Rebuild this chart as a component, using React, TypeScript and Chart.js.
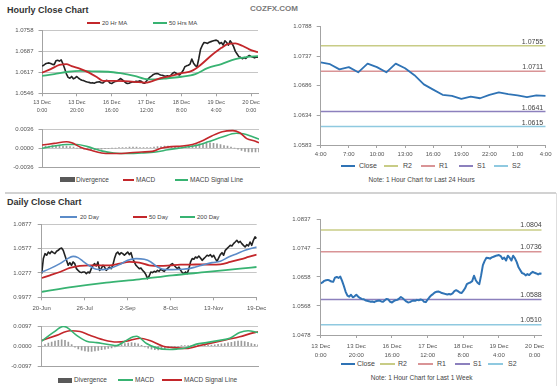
import React, { useEffect, useRef } from 'react';
import { Chart, registerables } from 'chart.js';

Chart.register(...registerables);

const FONT = "'Liberation Sans', Arial, Helvetica, sans-serif";

// ---------------- Hourly close (last 1 week) ----------------
const hourlyXTickIdx = [0, 20, 40, 60, 80, 100, 120];
const hourlyXLabels = [
  ['13 Dec', '0:00'], ['13 Dec', '20:00'], ['16 Dec', '16:00'], ['17 Dec', '12:00'],
  ['18 Dec', '8:00'], ['19 Dec', '4:00'], ['20 Dec', '0:00'],
];
const hourlyClose = [
  1.0638, 1.0641, 1.0646, 1.0648, 1.0649, 1.0647, 1.0644, 1.0643, 1.0656, 1.0658,
  1.0655, 1.0659, 1.0646, 1.0630, 1.0612, 1.0600, 1.0597, 1.0603, 1.0595, 1.0598,
  1.0603, 1.0597, 1.0593, 1.0590, 1.0589, 1.0586, 1.0584, 1.0583, 1.0581, 1.0582,
  1.0580, 1.0583, 1.0584, 1.0585, 1.0582, 1.0581, 1.0586, 1.0590, 1.0588, 1.0581,
  1.0579, 1.0583, 1.0586, 1.0587, 1.0591, 1.0596, 1.0592, 1.0587, 1.0582, 1.0579,
  1.0580, 1.0583, 1.0585, 1.0584, 1.0587, 1.0586, 1.0588, 1.0587, 1.0581, 1.0580,
  1.0588, 1.0595, 1.0601, 1.0605, 1.0610, 1.0612, 1.0613, 1.0611, 1.0608, 1.0607,
  1.0605, 1.0604, 1.0605, 1.0604, 1.0607, 1.0614, 1.0617, 1.0614, 1.0610, 1.0608,
  1.0615, 1.0623, 1.0636, 1.0639, 1.0641, 1.0645, 1.0662, 1.0648, 1.0640, 1.0636,
  1.0663, 1.0695, 1.0708, 1.0718, 1.0717, 1.0715, 1.0719, 1.0721, 1.0723, 1.0725,
  1.0726, 1.0723, 1.0714, 1.0718, 1.0709, 1.0724, 1.0718, 1.0709, 1.0724, 1.0716,
  1.0704, 1.0688, 1.0679, 1.0670, 1.0668, 1.0663, 1.0667, 1.0664, 1.0670, 1.0674,
  1.0671, 1.0669, 1.0666, 1.0669, 1.0668,
];
const hourlyMA20 = [
  [0, 1.0616], [5, 1.0628], [10, 1.0642], [14, 1.0645], [17, 1.0638], [22, 1.0629],
  [27, 1.0616], [32, 1.0599], [35, 1.0588], [41, 1.0588], [47, 1.0587], [53, 1.0585],
  [59, 1.0582], [62, 1.0585], [68, 1.0597], [74, 1.0605], [80, 1.0614], [86, 1.0622],
  [91, 1.0642], [97, 1.0673], [103, 1.0700], [107, 1.0713], [111, 1.0715], [115, 1.0707],
  [119, 1.0695], [124, 1.0685],
];
const hourlyMA50 = [
  [0, 1.0605], [7, 1.0611], [15, 1.0619], [22, 1.0622], [30, 1.0620], [38, 1.0619],
  [45, 1.0614], [53, 1.0605], [61, 1.0593], [66, 1.0593], [72, 1.0597], [80, 1.0602],
  [88, 1.0611], [95, 1.0631], [103, 1.0645], [111, 1.0662], [118, 1.0669], [124, 1.0672],
];
const hourlyYTicks = ['1.0546', '1.0617', '1.0687', '1.0758'];

const hourlyMacd = [
  [0, 0.0006], [7, 0.0009], [14, 0.0012], [17, 0.0010], [22, 0.0002], [28, -0.0004],
  [34, -0.0009], [40, -0.0010], [44, -0.0010], [49, -0.0009], [57, -0.0007], [63, -0.0006],
  [68, 0.0000], [74, 0.0003], [80, 0.0004], [86, 0.0007], [91, 0.0013], [97, 0.0023],
  [103, 0.0031], [109, 0.0033], [113, 0.0029], [117, 0.0018], [122, 0.0013], [124, 0.0010],
];
const hourlySignal = [
  [0, 0.0000], [7, 0.0004], [14, 0.0007], [20, 0.0007], [26, 0.0003], [34, -0.0005],
  [41, -0.0009], [49, -0.0010], [57, -0.0009], [65, -0.0007], [72, -0.0003], [80, 0.0001],
  [88, 0.0005], [95, 0.0012], [103, 0.0021], [111, 0.0028], [115, 0.0027], [120, 0.0022],
  [124, 0.0017],
];
// one bar every 2 hours
const hourlyDivergence = [
  0.0004, 0.0004, 0.0004, 0.0005, 0.0005, 0.0005, 0.0004, 0.0004,
  0.0003, 0.0002, 0.0000, -0.0001,
  -0.0002, -0.0002, -0.0003, -0.0003, -0.0002, -0.0002, -0.0001, -0.0001, 0.0000,
  0.0000, 0.0001, 0.0001, 0.0001, 0.0002, 0.0002, 0.0002, 0.0001, 0.0001, 0.0001,
  0.0001, 0.0002, 0.0003, 0.0003, 0.0004, 0.0004, 0.0003, 0.0003, 0.0003, 0.0003,
  0.0003, 0.0004, 0.0005, 0.0007, 0.0008, 0.0009, 0.0010, 0.0010, 0.0009, 0.0008, 0.0007, 0.0005, 0.0004,
  0.0002, 0.0000, -0.0002, -0.0004, -0.0006, -0.0007, -0.0007, -0.0007, -0.0007,
];
const hourlyMacdTicks = ['-0.0036', '0.0000', '0.0036'];

// ---------------- Last 24 hours ----------------
const last24TickIdx = [0, 3, 6, 9, 12, 15, 18, 21, 24];
const last24Labels = ['4:00', '7:00', '10:00', '13:00', '16:00', '19:00', '22:00', '1:00', '4:00'];
const last24Close = [
  1.0726, 1.0723, 1.0714, 1.0718, 1.0709, 1.0724, 1.0718, 1.0709, 1.0724, 1.0716,
  1.0704, 1.0688, 1.0679, 1.0670, 1.0668, 1.0663, 1.0667, 1.0664, 1.0670, 1.0674,
  1.0671, 1.0669, 1.0666, 1.0669, 1.0668,
];
const last24YTicks = ['1.0583', '1.0634', '1.0686', '1.0737', '1.0788'];
const levelNames = ['R2', 'R1', 'S1', 'S2'];
const last24Levels = [1.0755, 1.0711, 1.0641, 1.0615];

// ---------------- Last 1 week ----------------
const weekYTicks = ['1.0478', '1.0568', '1.0658', '1.0747', '1.0837'];
const weekLevels = [1.0804, 1.0736, 1.0588, 1.0510];

// ---------------- Daily ----------------
const dailyXTickIdx = [0, 26, 52, 78, 104, 130];
const dailyXLabels = ['20-Jun', '26-Jul', '2-Sep', '8-Oct', '13-Nov', '19-Dec'];
const dailyClose = [
  1.0268, 1.0452, 1.0513, 1.0493, 1.0533, 1.0513, 1.0542, 1.0525, 1.0513, 1.0542,
  1.0554, 1.0574, 1.0582, 1.0554, 1.0493, 1.0431, 1.0370, 1.0403, 1.0370, 1.0411,
  1.0390, 1.0329, 1.0308, 1.0288, 1.0280, 1.0288, 1.0288, 1.0268, 1.0288, 1.0276,
  1.0329, 1.0370, 1.0390, 1.0362, 1.0411, 1.0308, 1.0329, 1.0370, 1.0349, 1.0308,
  1.0329, 1.0349, 1.0329, 1.0370, 1.0452, 1.0513, 1.0533, 1.0501, 1.0525, 1.0513,
  1.0493, 1.0513, 1.0533, 1.0501, 1.0525, 1.0452, 1.0411, 1.0370, 1.0349, 1.0329,
  1.0337, 1.0308, 1.0288, 1.0255, 1.0206, 1.0239, 1.0288, 1.0280, 1.0296, 1.0288,
  1.0308, 1.0296, 1.0321, 1.0308, 1.0296, 1.0317, 1.0329, 1.0349, 1.0378, 1.0390,
  1.0370, 1.0349, 1.0329, 1.0349, 1.0308, 1.0280, 1.0268, 1.0288, 1.0268, 1.0329,
  1.0411, 1.0452, 1.0444, 1.0472, 1.0460, 1.0484, 1.0460, 1.0431, 1.0452, 1.0472,
  1.0493, 1.0484, 1.0501, 1.0472, 1.0493, 1.0452, 1.0419, 1.0460, 1.0501, 1.0525,
  1.0493, 1.0554, 1.0574, 1.0595, 1.0615, 1.0607, 1.0636, 1.0656, 1.0677, 1.0648,
  1.0664, 1.0636, 1.0615, 1.0595, 1.0623, 1.0607, 1.0656, 1.0615, 1.0677, 1.0718,
  1.0700,
];
const dailyMA20 = [
  [0, 1.0288], [5, 1.0329], [11, 1.0390], [15, 1.0443], [19, 1.0480], [22, 1.0464],
  [25, 1.0419], [29, 1.0362], [33, 1.0321], [37, 1.0317], [42, 1.0337], [47, 1.0378],
  [52, 1.0431], [57, 1.0452], [62, 1.0443], [66, 1.0411], [70, 1.0349], [75, 1.0317],
  [79, 1.0317], [85, 1.0321], [89, 1.0329], [93, 1.0349], [98, 1.0378], [103, 1.0403],
  [108, 1.0419], [113, 1.0472], [118, 1.0513], [123, 1.0554], [130, 1.0595],
];
const dailyMA50 = [
  [0, 1.0214], [5, 1.0247], [11, 1.0288], [17, 1.0337], [23, 1.0362], [29, 1.0370],
  [35, 1.0370], [41, 1.0370], [47, 1.0390], [53, 1.0411], [59, 1.0403], [65, 1.0370],
  [72, 1.0362], [78, 1.0370], [84, 1.0378], [90, 1.0378], [96, 1.0382], [102, 1.0378],
  [108, 1.0382], [114, 1.0411], [120, 1.0443], [125, 1.0472], [130, 1.0501],
];
const dailyMA200 = [
  [0, 1.0043], [19, 1.0104], [39, 1.0157], [59, 1.0198], [79, 1.0247], [100, 1.0288],
  [120, 1.0329], [130, 1.0349],
];
const dailyYTicks = ['0.9977', '1.0277', '1.0577', '1.0877'];

const dailyMacd = [
  [0, 0.0024], [7, 0.0066], [13, 0.0095], [15, 0.0091], [21, 0.0052], [27, 0.0024],
  [33, 0.0017], [41, 0.0007], [45, 0.0003], [50, 0.0024], [55, 0.0045], [57, 0.0048],
  [63, 0.0013], [69, -0.0008], [77, -0.0016], [81, -0.0014], [87, -0.0007], [93, 0.0010],
  [99, 0.0017], [107, 0.0028], [113, 0.0038], [119, 0.0066], [124, 0.0074], [130, 0.0066],
];
const dailySignal = [
  [0, 0.0027], [9, 0.0052], [17, 0.0074], [23, 0.0071], [29, 0.0052], [37, 0.0031],
  [45, 0.0020], [51, 0.0024], [59, 0.0038], [65, 0.0027], [73, 0.0000], [79, -0.0007],
  [87, -0.0011], [95, 0.0003], [103, 0.0017], [111, 0.0031], [119, 0.0045], [127, 0.0064],
  [130, 0.0069],
];
// one bar every 2 days
const dailyDivergence = [
  0.0000, 0.0008, 0.0015, 0.0020, 0.0024, 0.0028, 0.0030, 0.0028, 0.0020, 0.0008,
  -0.0005, -0.0013, -0.0019, -0.0023, -0.0025, -0.0025, -0.0023, -0.0020, -0.0017, -0.0014,
  -0.0011, -0.0008, -0.0004, 0.0002, 0.0008, 0.0012, 0.0015, 0.0017, 0.0015, 0.0011,
  0.0004, -0.0004, -0.0010, -0.0014, -0.0017, -0.0018, -0.0016, -0.0012, -0.0008, -0.0005,
  -0.0003, -0.0002, 0.0001, 0.0002, 0.0003, 0.0004, 0.0005, 0.0006, 0.0005, 0.0004,
  0.0004, 0.0005, 0.0007, 0.0009, 0.0011, 0.0013, 0.0016, 0.0019, 0.0022, 0.0024,
  0.0024, 0.0022, 0.0018, 0.0013, 0.0009, 0.0006,
];
const dailyMacdTicks = ['-0.0097', '0.0000', '0.0097'];

// ---------------- colours ----------------
const RED = '#c3272b';
const GREEN = '#38b372';
const BLUE20 = '#5b8bc8';
const CLOSE_BLUE = '#2f73b5';
const LEVEL_COLORS = ['#c8cc86', '#d99496', '#8c80bd', '#8fc9e0'];
const AXIS = '#a3a3a3';
const GRID = '#c6c6c6';
const TICK_TXT = '#555';

// ---------------- helpers ----------------
const seq = (arr: number[]) => arr.map((y, i) => ({ x: i, y }));
const pairs = (arr: number[][]) => arr.map(([x, y]) => ({ x, y }));
const every2 = (arr: number[]) => arr.map((y, k) => ({ x: k * 2, y }));

function lineDs(data: any[], color: string, width: number, smooth = false) {
  return {
    type: 'line', data, borderColor: color, backgroundColor: color, borderWidth: width,
    pointRadius: 0, fill: false, tension: 0,
    cubicInterpolationMode: smooth ? 'monotone' : 'default', borderJoinStyle: 'round',
  };
}
function barDs(data: any[]) {
  return { type: 'bar', data, backgroundColor: '#9c9c9c', borderWidth: 0, barThickness: 1 };
}
function levelDs(v: number, max: number, color: string) {
  return lineDs([{ x: 0, y: v }, { x: max, y: v }], color, 1.5);
}

function yAxis(labels: string[], width: number, gridOn: boolean, tl: number, pad: number) {
  const vals = labels.map(Number);
  return {
    type: 'linear', position: 'left', min: vals[0], max: vals[vals.length - 1],
    afterBuildTicks: (s: any) => { s.ticks = vals.map((value) => ({ value })); },
    afterFit: (s: any) => { s.width = width; },
    ticks: {
      font: { family: FONT, size: 6 }, color: TICK_TXT, padding: pad, autoSkip: false,
      callback: (_v: any, i: number) => labels[i],
    },
    grid: { drawOnChartArea: gridOn, color: GRID, lineWidth: 1, tickLength: tl, tickColor: AXIS },
    border: { display: true, color: AXIS },
  };
}

function xAxis(max: number, idx: number[], labels: any[], height: number, pad: number, size: number, show = true) {
  return {
    type: 'linear', position: 'bottom', min: 0, max, offset: false,
    afterBuildTicks: (s: any) => { s.ticks = idx.map((value) => ({ value })); },
    afterFit: (s: any) => { s.height = height; },
    ticks: {
      display: show, autoSkip: false, maxRotation: 0, minRotation: 0,
      font: { family: FONT, size, lineHeight: 1.5 }, color: TICK_TXT, padding: pad,
      callback: (_v: any, i: number) => labels[i],
    },
    grid: { display: show, drawOnChartArea: false, tickLength: 3, tickColor: AXIS, offset: false },
    border: { display: true, color: AXIS },
  };
}

function baseOptions(padding: any, scales: any, extra: any = {}) {
  return {
    responsive: false, maintainAspectRatio: false, animation: false, devicePixelRatio: 1, events: [],
    layout: { padding },
    plugins: { legend: { display: false }, tooltip: { enabled: false }, ...extra },
    scales,
  };
}

function levelLabelPlugin(levels: number[], dx: number, dy: number) {
  return {
    id: 'levelLabels',
    afterDatasetsDraw(chart: any) {
      const { ctx, chartArea, scales } = chart;
      ctx.save();
      ctx.font = `7px ${FONT}`;
      ctx.fillStyle = '#444';
      ctx.textAlign = 'right';
      ctx.textBaseline = 'alphabetic';
      levels.forEach((v) => {
        const y = scales.y.getPixelForValue(v);
        ctx.fillText(v.toFixed(4), chartArea.right - dx, y - dy);
      });
      ctx.restore();
    },
  };
}

// ---------------- chart configs ----------------
const hourlyPriceCfg = () => ({
  type: 'line',
  data: {
    datasets: [
      lineDs(pairs(hourlyMA20), RED, 1.8, true),
      lineDs(pairs(hourlyMA50), GREEN, 1.8, true),
      lineDs(seq(hourlyClose), '#222', 1.6),
    ],
  },
  options: baseOptions({ top: 10.7, right: 8, bottom: 0, left: 0 }, {
    x: xAxis(124, hourlyXTickIdx, hourlyXLabels, 26.7, 2, 5.5),
    y: yAxis(hourlyYTicks, 42, true, 3.5, 5),
  }),
});

const hourlyMacdCfg = () => ({
  type: 'line',
  data: {
    datasets: [
      lineDs(pairs(hourlyMacd), RED, 1.6, true),
      lineDs(pairs(hourlySignal), GREEN, 1.6, true),
      barDs(every2(hourlyDivergence)),
    ],
  },
  options: baseOptions({ top: 9, right: 7, bottom: 0, left: 0 }, {
    x: xAxis(124, hourlyXTickIdx, hourlyXLabels, 5.3, 0, 6, false),
    y: yAxis(hourlyMacdTicks, 42, true, 3.5, 5),
  }),
});

const last24Cfg = () => ({
  type: 'line',
  data: {
    datasets: [
      lineDs(seq(last24Close), CLOSE_BLUE, 1.8),
      ...last24Levels.map((v, i) => levelDs(v, 24, LEVEL_COLORS[i])),
    ],
  },
  options: baseOptions({ top: 10.7, right: 14.3, bottom: 0, left: 0 }, {
    x: xAxis(24, last24TickIdx, last24Labels, 17, 1.5, 6),
    y: yAxis(last24YTicks, 45.7, false, 4, 5),
  }),
  plugins: [levelLabelPlugin(last24Levels, 2.5, 2)],
});

const weekCfg = () => ({
  type: 'line',
  data: {
    datasets: [
      lineDs(seq(hourlyClose), CLOSE_BLUE, 2),
      ...weekLevels.map((v, i) => levelDs(v, 124, LEVEL_COLORS[i])),
    ],
  },
  options: baseOptions({ top: 11.3, right: 18.3, bottom: 0, left: 0 }, {
    x: xAxis(124, hourlyXTickIdx, hourlyXLabels, 27, 4, 6),
    y: yAxis(weekYTicks, 45.7, false, 4, 6),
  }),
  plugins: [levelLabelPlugin(weekLevels, 0, 2.5)],
});

const dailyPriceCfg = () => ({
  type: 'line',
  data: {
    datasets: [
      lineDs(pairs(dailyMA20), BLUE20, 1.6, true),
      lineDs(pairs(dailyMA50), RED, 1.8, true),
      lineDs(pairs(dailyMA200), GREEN, 1.8, true),
      lineDs(seq(dailyClose), '#222', 1.6),
    ],
  },
  options: baseOptions({ top: 12, right: 15.3, bottom: 0, left: 0 }, {
    x: xAxis(130, dailyXTickIdx, dailyXLabels, 16.7, 3.5, 6),
    y: yAxis(dailyYTicks, 41.7, true, 4, 6),
  }),
});

const dailyMacdCfg = () => ({
  type: 'line',
  data: {
    datasets: [
      lineDs(pairs(dailyMacd), GREEN, 1.6, true),
      lineDs(pairs(dailySignal), RED, 1.6, true),
      barDs(every2(dailyDivergence)),
    ],
  },
  options: baseOptions({ top: 10, right: 14, bottom: 0, left: 0 }, {
    x: xAxis(130, dailyXTickIdx, dailyXLabels, 4.3, 0, 6, false),
    y: yAxis(dailyMacdTicks, 41.7, true, 4, 6),
  }),
});

// ---------------- components ----------------
function ChartCanvas({ left, top, width, height, build }: any) {
  const ref = useRef<HTMLCanvasElement>(null);
  useEffect(() => {
    const chart = new Chart(ref.current as HTMLCanvasElement, build() as any);
    return () => chart.destroy();
  }, []);
  return (
    <canvas
      ref={ref}
      width={width}
      height={height}
      style={{ position: 'absolute', left, top, width, height }}
    />
  );
}

function Txt({ x, y, size, text, bold = false, color = '#444', center = false }: any) {
  return (
    <div
      style={{
        position: 'absolute', left: center ? x - 150 : x, top: y - 6, width: center ? 300 : undefined,
        height: 12, lineHeight: '12px', fontSize: size, fontWeight: bold ? 700 : 400, color,
        whiteSpace: 'nowrap', textAlign: center ? 'center' : 'left', fontFamily: FONT,
      }}
    >
      {text}
    </div>
  );
}

function LegendItem({ x, y, w, tx, color, text, size, box = false }: any) {
  const h = box ? 5 : 2;
  return (
    <>
      <div style={{ position: 'absolute', left: x, top: y - h / 2, width: w, height: h, background: color }} />
      <Txt x={tx} y={y} size={size} text={text} />
    </>
  );
}

export default function App() {
  useEffect(() => {
    document.body.style.margin = '0';
  }, []);
  return (
    <div
      style={{
        position: 'fixed', left: 0, top: 0, width: 560, height: 386, background: '#fff',
        overflow: 'hidden', fontFamily: FONT,
      }}
    >
      <Txt x={7} y={9.5} size={9} bold color="#333" text="Hourly Close Chart" />
      <Txt x={250} y={9} size={8} bold color="#7a7a7a" text="COZFX.COM" />
      <Txt x={7} y={202} size={9} bold color="#333" text="Daily Close Chart" />

      <div style={{ position: 'absolute', left: 5, top: 191.5, width: 551, height: 2, background: '#d2d2d2' }} />
      <div style={{ position: 'absolute', left: 556, top: 193, width: 1, height: 193, background: '#dedede' }} />

      {/* legends: hourly price */}
      <LegendItem x={87} y={23} w={13} tx={102} color={RED} size={6} text="20 Hr MA" />
      <LegendItem x={153} y={23} w={14} tx={169} color={GREEN} size={6} text="50 Hrs MA" />

      {/* legends: hourly MACD */}
      <LegendItem x={60} y={179.7} w={15} tx={76} color="#595959" size={6.5} text="Divergence" box />
      <LegendItem x={123} y={179.7} w={11} tx={136} color={RED} size={6.5} text="MACD" />
      <LegendItem x={175} y={179.7} w={13} tx={190} color={GREEN} size={6.5} text="MACD Signal Line" />

      {/* legends: last 24h */}
      <LegendItem x={341} y={165.7} w={14} tx={359} color={CLOSE_BLUE} size={7} text="Close" />
      {levelNames.map((n, i) => (
        <LegendItem key={n} x={[384, 421, 459, 494][i]} y={165.7} w={14} tx={[403, 439, 477, 512][i]}
          color={LEVEL_COLORS[i]} size={7} text={n} />
      ))}
      <Txt x={421.7} y={180} size={6.5} center color="#444" text="Note: 1 Hour Chart for Last 24 Hours" />

      {/* legends: daily price */}
      <LegendItem x={60} y={216.7} w={17} tx={80} color={BLUE20} size={6} text="20 Day" />
      <LegendItem x={133} y={216.7} w={14} tx={149} color={RED} size={6} text="50 Day" />
      <LegendItem x={180} y={216.7} w={15} tx={197} color={GREEN} size={6} text="200 Day" />

      {/* legends: daily MACD */}
      <LegendItem x={58} y={380} w={14} tx={74} color="#595959" size={6.5} text="Divergence" box />
      <LegendItem x={118} y={380} w={15} tx={135} color={GREEN} size={6.5} text="MACD" />
      <LegendItem x={162} y={380} w={20} tx={184} color={RED} size={6.5} text="MACD Signal Line" />

      {/* legends: last week */}
      <LegendItem x={341} y={364} w={14} tx={357} color={CLOSE_BLUE} size={7} text="Close" />
      {levelNames.map((n, i) => (
        <LegendItem key={'w' + n} x={[380, 418, 455, 488][i]} y={364} w={15} tx={[398, 437, 473, 508][i]}
          color={LEVEL_COLORS[i]} size={7} text={n} />
      ))}
      <Txt x={421.7} y={377.7} size={6.5} center color="#444" text="Note: 1 Hour Chart for Last 1 Week" />

      <ChartCanvas left={0} top={20} width={266} height={100} build={hourlyPriceCfg} />
      <ChartCanvas left={0} top={120} width={266} height={56} build={hourlyMacdCfg} />
      <ChartCanvas left={275} top={16} width={285} height={146} build={last24Cfg} />
      <ChartCanvas left={0} top={212} width={272} height={102} build={dailyPriceCfg} />
      <ChartCanvas left={0} top={316} width={272} height={60} build={dailyMacdCfg} />
      <ChartCanvas left={275} top={208} width={285} height={154} build={weekCfg} />
    </div>
  );
}
